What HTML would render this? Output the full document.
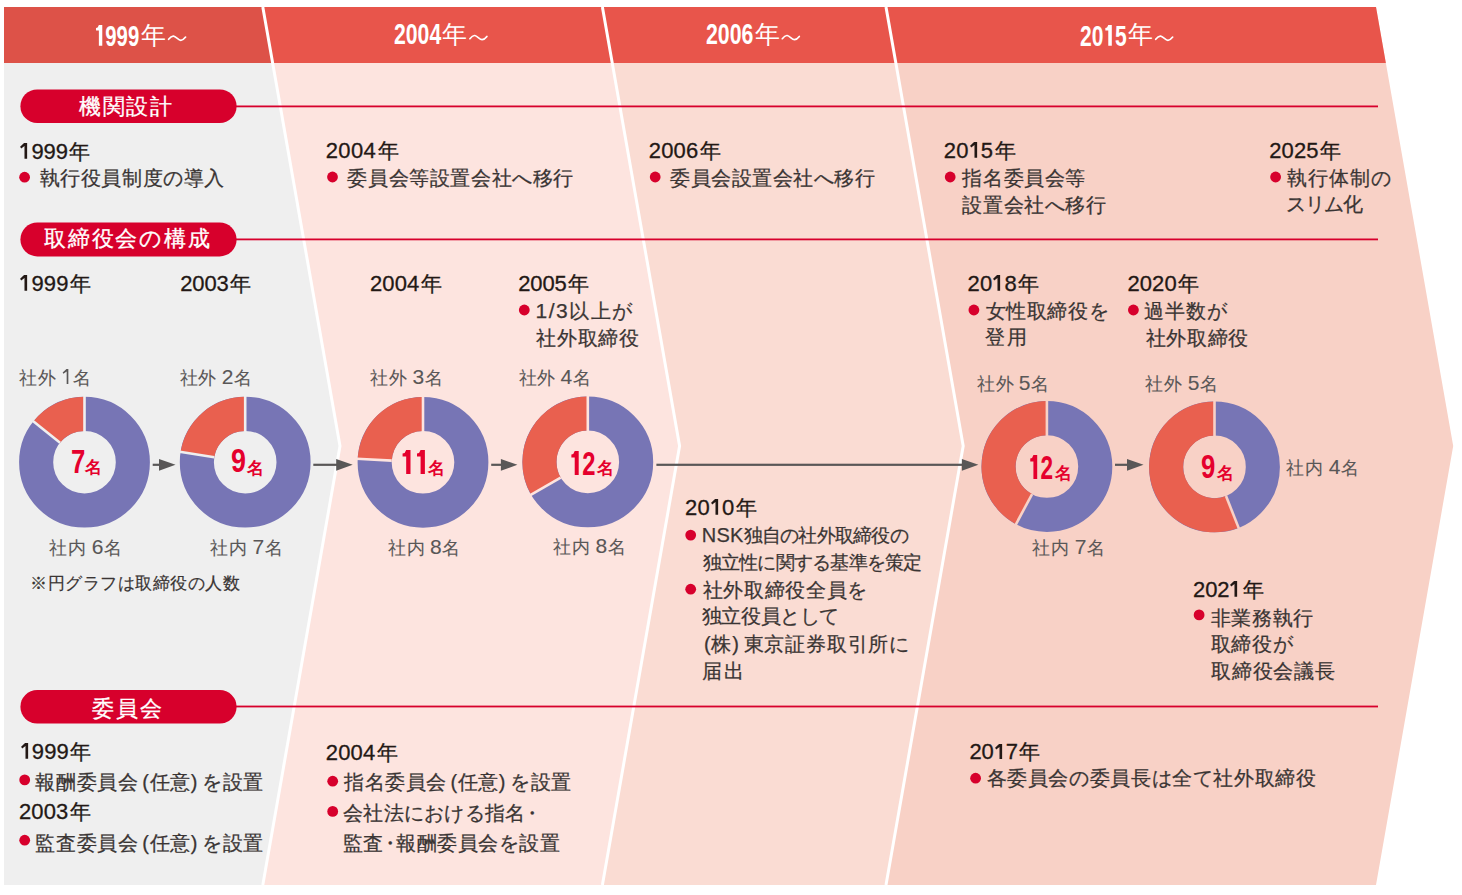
<!DOCTYPE html>
<html lang="ja"><head><meta charset="utf-8">
<style>
html,body{margin:0;padding:0;background:#fff;width:1462px;height:895px;overflow:hidden}
body{position:relative;font-family:"Liberation Sans",sans-serif}
svg{position:absolute;left:0;top:0}
svg.one{position:static;display:inline-block;width:0.556em;height:0.716em;vertical-align:baseline}
div{position:absolute;white-space:nowrap;line-height:1}
.hdig{font-weight:bold;font-size:29px;color:#fff;transform-origin:0 0}
.hnen{font-size:25px;color:#fff}
.pill{font-size:22px;color:#fff;-webkit-text-stroke:0.3px #fff}
.yr{font-size:22px;color:#231815;-webkit-text-stroke:0.3px #231815}
.bd{font-size:20px;color:#3a3534;-webkit-text-stroke:0.25px #3a3534}
.lb{font-size:17.5px;color:#595757;-webkit-text-stroke:0.1px #595757}
.note{font-size:17px;color:#3a3534;-webkit-text-stroke:0.2px #3a3534}
.ndig{font-weight:bold;font-size:34px;color:#e5002d;transform-origin:0 0}
.nnen{font-weight:bold;font-size:17px;color:#e5002d}
</style></head><body>
<svg width="1462" height="895" viewBox="0 0 1462 895">
<polygon points="4.00,7.00 262.80,7.00 340.00,446.00 262.80,885.00 4.00,885.00" fill="#efefef"/>
<polygon points="602.40,7.00 679.60,446.00 602.40,885.00 262.80,885.00 340.00,446.00 262.80,7.00" fill="#fde4df"/>
<polygon points="886.00,7.00 963.20,446.00 886.00,885.00 602.40,885.00 679.60,446.00 602.40,7.00" fill="#fadcd3"/>
<polygon points="1376.00,7.00 1453.20,446.00 1376.00,885.00 886.00,885.00 963.20,446.00 886.00,7.00" fill="#f8d1c6"/>
<clipPath id="hc"><rect x="0" y="7" width="1462" height="56"/></clipPath>
<polygon clip-path="url(#hc)" points="4.00,7.00 262.80,7.00 340.00,446.00 262.80,885.00 4.00,885.00" fill="#dd5248"/>
<polygon clip-path="url(#hc)" points="602.40,7.00 679.60,446.00 602.40,885.00 262.80,885.00 340.00,446.00 262.80,7.00" fill="#e8554b"/>
<polygon clip-path="url(#hc)" points="886.00,7.00 963.20,446.00 886.00,885.00 602.40,885.00 679.60,446.00 602.40,7.00" fill="#e8554b"/>
<polygon clip-path="url(#hc)" points="1376.00,7.00 1453.20,446.00 1376.00,885.00 886.00,885.00 963.20,446.00 886.00,7.00" fill="#e8554b"/>
<polyline points="262.80,7.00 340.00,446.00 262.80,885.00" fill="none" stroke="#fff" stroke-width="3"/>
<polyline points="602.40,7.00 679.60,446.00 602.40,885.00" fill="none" stroke="#fff" stroke-width="3"/>
<polyline points="886.00,7.00 963.20,446.00 886.00,885.00" fill="none" stroke="#fff" stroke-width="3"/>
<rect x="230" y="105.5" width="1148" height="1.8" fill="#d7002c"/>
<rect x="20.4" y="89.4" width="216.2" height="33.6" rx="16.8" fill="#d7002c"/>
<rect x="230" y="238.5" width="1148" height="1.8" fill="#d7002c"/>
<rect x="20.4" y="222.4" width="216.2" height="34.0" rx="17.0" fill="#d7002c"/>
<rect x="230" y="705.5999999999999" width="1148" height="1.8" fill="#d7002c"/>
<rect x="20.4" y="690" width="216.2" height="33.6" rx="16.8" fill="#d7002c"/>
<circle cx="84.5" cy="462.2" r="48.35" fill="none" stroke="#7775b5" stroke-width="34.10000000000001"/>
<path d="M84.50,396.80 A65.4,65.4 0 0 0 33.39,421.40 L60.04,442.67 A31.3,31.3 0 0 1 84.50,430.90Z" fill="#e9604f"/>
<line x1="84.5" y1="395.79999999999995" x2="84.5" y2="431.9" stroke="#efefef" stroke-width="2.6"/>
<line x1="32.61" y1="420.77" x2="60.04" y2="442.67" stroke="#efefef" stroke-width="2.6"/>
<circle cx="245.2" cy="462.2" r="48.35" fill="none" stroke="#7775b5" stroke-width="34.10000000000001"/>
<path d="M245.20,396.80 A65.4,65.4 0 0 0 180.62,451.86 L214.29,457.25 A31.3,31.3 0 0 1 245.20,430.90Z" fill="#e9604f"/>
<line x1="245.2" y1="395.79999999999995" x2="245.2" y2="431.9" stroke="#efefef" stroke-width="2.6"/>
<line x1="179.64" y1="451.70" x2="214.29" y2="457.25" stroke="#efefef" stroke-width="2.6"/>
<circle cx="423" cy="462.3" r="48.35" fill="none" stroke="#7775b5" stroke-width="34.10000000000001"/>
<path d="M423.00,396.90 A65.4,65.4 0 0 0 357.69,458.88 L391.74,460.66 A31.3,31.3 0 0 1 423.00,431.00Z" fill="#e9604f"/>
<line x1="423" y1="395.9" x2="423" y2="432.0" stroke="#fde4df" stroke-width="2.6"/>
<line x1="356.69" y1="458.82" x2="391.74" y2="460.66" stroke="#fde4df" stroke-width="2.6"/>
<circle cx="587.8" cy="461.9" r="48.35" fill="none" stroke="#7775b5" stroke-width="34.10000000000001"/>
<path d="M587.80,396.50 A65.4,65.4 0 0 0 531.16,494.60 L560.69,477.55 A31.3,31.3 0 0 1 587.80,430.60Z" fill="#e9604f"/>
<line x1="587.8" y1="395.5" x2="587.8" y2="431.59999999999997" stroke="#fde4df" stroke-width="2.6"/>
<line x1="530.30" y1="495.10" x2="560.69" y2="477.55" stroke="#fde4df" stroke-width="2.6"/>
<circle cx="1046.9" cy="466.5" r="48.35" fill="none" stroke="#7775b5" stroke-width="34.10000000000001"/>
<path d="M1046.90,401.10 A65.4,65.4 0 0 0 1016.00,524.14 L1032.11,494.08 A31.3,31.3 0 0 1 1046.90,435.20Z" fill="#e9604f"/>
<line x1="1046.9" y1="400.1" x2="1046.9" y2="436.2" stroke="#f8d1c6" stroke-width="2.6"/>
<line x1="1015.52" y1="525.02" x2="1032.11" y2="494.08" stroke="#f8d1c6" stroke-width="2.6"/>
<circle cx="1214.5" cy="466.9" r="48.35" fill="none" stroke="#7775b5" stroke-width="34.10000000000001"/>
<path d="M1214.50,401.50 A65.4,65.4 0 1 0 1238.58,527.71 L1226.02,496.00 A31.3,31.3 0 1 1 1214.50,435.60Z" fill="#e9604f"/>
<line x1="1214.5" y1="400.5" x2="1214.5" y2="436.59999999999997" stroke="#f8d1c6" stroke-width="2.6"/>
<line x1="1238.94" y1="528.64" x2="1226.02" y2="496.00" stroke="#f8d1c6" stroke-width="2.6"/>
<rect x="152.7" y="463.7" width="12.800000000000011" height="2.2" fill="#595757"/>
<polygon points="159.0,458.95 175.5,464.8 159.0,470.65000000000003" fill="#595757"/>
<rect x="313.3" y="463.7" width="29.399999999999977" height="2.2" fill="#595757"/>
<polygon points="336.2,458.95 352.7,464.8 336.2,470.65000000000003" fill="#595757"/>
<rect x="491.2" y="463.7" width="16.19999999999999" height="2.2" fill="#595757"/>
<polygon points="500.9,458.95 517.4,464.8 500.9,470.65000000000003" fill="#595757"/>
<rect x="656.4" y="463.7" width="312.0" height="2.2" fill="#595757"/>
<polygon points="961.9,458.95 978.4,464.8 961.9,470.65000000000003" fill="#595757"/>
<rect x="1115" y="463.7" width="18.5" height="2.2" fill="#595757"/>
<polygon points="1127.0,458.95 1143.5,464.8 1127.0,470.65000000000003" fill="#595757"/>
<circle cx="24.6" cy="177.2" r="5.4" fill="#d7002c"/>
<circle cx="332.5" cy="177" r="5.4" fill="#d7002c"/>
<circle cx="655.2" cy="177" r="5.4" fill="#d7002c"/>
<circle cx="950.2" cy="177" r="5.4" fill="#d7002c"/>
<circle cx="1275.6" cy="177" r="5.4" fill="#d7002c"/>
<circle cx="524.3" cy="310" r="5.4" fill="#d7002c"/>
<circle cx="973.9" cy="310" r="5.4" fill="#d7002c"/>
<circle cx="1133.4" cy="310" r="5.4" fill="#d7002c"/>
<circle cx="690.7" cy="535.1" r="5.4" fill="#d7002c"/>
<circle cx="690.7" cy="589.2" r="5.4" fill="#d7002c"/>
<circle cx="1199.1" cy="614.9" r="5.4" fill="#d7002c"/>
<circle cx="24.7" cy="779.9" r="5.4" fill="#d7002c"/>
<circle cx="24.7" cy="840.2" r="5.4" fill="#d7002c"/>
<circle cx="332.7" cy="781.2" r="5.4" fill="#d7002c"/>
<circle cx="332.7" cy="811.4" r="5.4" fill="#d7002c"/>
<circle cx="975.6" cy="778.2" r="5.4" fill="#d7002c"/>
<path d="M168.60,39.30 C170.50,36.80 172.00,35.90 173.50,36.10 C176.00,36.50 178.30,40.30 180.80,40.30 C182.60,40.30 184.30,38.80 185.60,37.10" fill="none" stroke="#fff" stroke-width="1.7" stroke-linecap="round"/>
<path d="M469.90,38.70 C471.80,36.20 473.30,35.30 474.80,35.50 C477.30,35.90 479.60,39.70 482.10,39.70 C483.90,39.70 485.60,38.20 486.90,36.50" fill="none" stroke="#fff" stroke-width="1.7" stroke-linecap="round"/>
<path d="M782.30,38.70 C784.20,36.20 785.70,35.30 787.20,35.50 C789.70,35.90 792.00,39.70 794.50,39.70 C796.30,39.70 798.00,38.20 799.30,36.50" fill="none" stroke="#fff" stroke-width="1.7" stroke-linecap="round"/>
<path d="M1155.70,39.30 C1157.60,36.80 1159.10,35.90 1160.60,36.10 C1163.10,36.50 1165.40,40.30 1167.90,40.30 C1169.70,40.30 1171.40,38.80 1172.70,37.10" fill="none" stroke="#fff" stroke-width="1.7" stroke-linecap="round"/>
</svg>
<div id="t0" class="hdig" style="left:94.00px;top:22.00px;transform:scaleX(0.7004)"><svg class="one" viewBox="0 0 0.556 0.716" preserveAspectRatio="none"><polygon points="0.24,0 0.408,0 0.408,0.716 0.24,0.716 0.24,0.19 0.10,0.19 0.10,0.10 0.18,0.085 0.24,0" fill="currentColor"/></svg>999</div>
<div id="t1" class="hnen" style="left:140.60px;top:23.20px">年</div>
<div id="t2" class="hdig" style="left:394.00px;top:19.80px;transform:scaleX(0.7318)">2004</div>
<div id="t3" class="hnen" style="left:442.20px;top:21.80px">年</div>
<div id="t4" class="hdig" style="left:706.20px;top:19.80px;transform:scaleX(0.7338)">2006</div>
<div id="t5" class="hnen" style="left:754.60px;top:21.80px">年</div>
<div id="t6" class="hdig" style="left:1079.60px;top:21.80px;transform:scaleX(0.7258)">20<svg class="one" viewBox="0 0 0.556 0.716" preserveAspectRatio="none"><polygon points="0.24,0 0.408,0 0.408,0.716 0.24,0.716 0.24,0.19 0.10,0.19 0.10,0.10 0.18,0.085 0.24,0" fill="currentColor"/></svg>5</div>
<div id="t7" class="hnen" style="left:1128.00px;top:22.40px">年</div>
<div id="t8" class="pill" style="left:79.00px;top:95.60px;letter-spacing:1.667px">機関設計</div>
<div id="t9" class="pill" style="left:44.00px;top:228.00px;letter-spacing:1.833px">取締役会の構成</div>
<div id="t10" class="pill" style="left:92.00px;top:698.00px;letter-spacing:2.000px">委員会</div>
<div id="t11" class="yr" style="left:19.20px;top:140.60px;letter-spacing:-0.100px"><svg class="one" viewBox="0 0 0.556 0.716" preserveAspectRatio="none"><polygon points="0.25,0 0.37,0 0.37,0.716 0.25,0.716 0.25,0.14 0.10,0.25 0.05,0.17 0.23,0" fill="currentColor"/></svg>999<span style="font-size:20.5px;margin-left:1.5px">年</span></div>
<div id="t12" class="yr" style="left:325.80px;top:140.20px;letter-spacing:0.325px">2004<span style="font-size:20.5px;margin-left:1.5px">年</span></div>
<div id="t13" class="yr" style="left:648.80px;top:140.20px;letter-spacing:0.125px">2006<span style="font-size:20.5px;margin-left:1.5px">年</span></div>
<div id="t14" class="yr" style="left:943.80px;top:140.20px;letter-spacing:0.125px">20<svg class="one" viewBox="0 0 0.556 0.716" preserveAspectRatio="none"><polygon points="0.25,0 0.37,0 0.37,0.716 0.25,0.716 0.25,0.14 0.10,0.25 0.05,0.17 0.23,0" fill="currentColor"/></svg>5<span style="font-size:20.5px;margin-left:1.5px">年</span></div>
<div id="t15" class="yr" style="left:1269.20px;top:140.20px;letter-spacing:0.125px">2025<span style="font-size:20.5px;margin-left:1.5px">年</span></div>
<div id="t16" class="yr" style="left:19.20px;top:273.20px;letter-spacing:0.125px"><svg class="one" viewBox="0 0 0.556 0.716" preserveAspectRatio="none"><polygon points="0.25,0 0.37,0 0.37,0.716 0.25,0.716 0.25,0.14 0.10,0.25 0.05,0.17 0.23,0" fill="currentColor"/></svg>999<span style="font-size:20.5px;margin-left:1.5px">年</span></div>
<div id="t17" class="yr" style="left:180.20px;top:273.20px;letter-spacing:-0.125px">2003<span style="font-size:20.5px;margin-left:1.5px">年</span></div>
<div id="t18" class="yr" style="left:370.00px;top:273.20px;letter-spacing:0.125px">2004<span style="font-size:20.5px;margin-left:1.5px">年</span></div>
<div id="t19" class="yr" style="left:518.20px;top:273.20px;letter-spacing:-0.125px">2005<span style="font-size:20.5px;margin-left:1.5px">年</span></div>
<div id="t20" class="yr" style="left:967.60px;top:273.20px;letter-spacing:0.125px">20<svg class="one" viewBox="0 0 0.556 0.716" preserveAspectRatio="none"><polygon points="0.25,0 0.37,0 0.37,0.716 0.25,0.716 0.25,0.14 0.10,0.25 0.05,0.17 0.23,0" fill="currentColor"/></svg>8<span style="font-size:20.5px;margin-left:1.5px">年</span></div>
<div id="t21" class="yr" style="left:1127.40px;top:273.20px;letter-spacing:0.125px">2020<span style="font-size:20.5px;margin-left:1.5px">年</span></div>
<div id="t22" class="yr" style="left:685.00px;top:497.00px;letter-spacing:0.200px">20<svg class="one" viewBox="0 0 0.556 0.716" preserveAspectRatio="none"><polygon points="0.25,0 0.37,0 0.37,0.716 0.25,0.716 0.25,0.14 0.10,0.25 0.05,0.17 0.23,0" fill="currentColor"/></svg>0<span style="font-size:20.5px;margin-left:1.5px">年</span></div>
<div id="t23" class="yr" style="left:1193.00px;top:579.20px;letter-spacing:-0.075px">202<svg class="one" viewBox="0 0 0.556 0.716" preserveAspectRatio="none"><polygon points="0.25,0 0.37,0 0.37,0.716 0.25,0.716 0.25,0.14 0.10,0.25 0.05,0.17 0.23,0" fill="currentColor"/></svg><span style="font-size:20.5px;margin-left:1.5px">年</span></div>
<div id="t24" class="yr" style="left:19.60px;top:740.60px;letter-spacing:0.125px"><svg class="one" viewBox="0 0 0.556 0.716" preserveAspectRatio="none"><polygon points="0.25,0 0.37,0 0.37,0.716 0.25,0.716 0.25,0.14 0.10,0.25 0.05,0.17 0.23,0" fill="currentColor"/></svg>999<span style="font-size:20.5px;margin-left:1.5px">年</span></div>
<div id="t25" class="yr" style="left:19.00px;top:801.00px;letter-spacing:0.125px">2003<span style="font-size:20.5px;margin-left:1.5px">年</span></div>
<div id="t26" class="yr" style="left:325.80px;top:742.00px;letter-spacing:0.125px">2004<span style="font-size:20.5px;margin-left:1.5px">年</span></div>
<div id="t27" class="yr" style="left:969.60px;top:741.40px;letter-spacing:-0.225px">20<svg class="one" viewBox="0 0 0.556 0.716" preserveAspectRatio="none"><polygon points="0.25,0 0.37,0 0.37,0.716 0.25,0.716 0.25,0.14 0.10,0.25 0.05,0.17 0.23,0" fill="currentColor"/></svg>7<span style="font-size:20.5px;margin-left:1.5px">年</span></div>
<div id="t28" class="bd" style="left:39.80px;top:168.00px;letter-spacing:0.550px">執行役員制度の導入</div>
<div id="t29" class="bd" style="left:347.40px;top:167.80px;letter-spacing:0.590px">委員会等設置会社へ移行</div>
<div id="t30" class="bd" style="left:670.20px;top:167.80px;letter-spacing:0.522px">委員会設置会社へ移行</div>
<div id="t31" class="bd" style="left:962.40px;top:167.80px;letter-spacing:0.580px">指名委員会等</div>
<div id="t32" class="bd" style="left:962.40px;top:194.80px;letter-spacing:0.567px">設置会社へ移行</div>
<div id="t33" class="bd" style="left:1287.40px;top:167.80px;letter-spacing:0.850px">執行体制の</div>
<div id="t34" class="bd" style="left:1285.60px;top:193.80px;letter-spacing:-0.967px">スリム化</div>
<div id="t35" class="bd" style="left:535.40px;top:300.00px;letter-spacing:1.580px"><span style="font-size:21px">1/3</span>以上が</div>
<div id="t36" class="bd" style="left:536.20px;top:328.20px;letter-spacing:0.675px">社外取締役</div>
<div id="t37" class="bd" style="left:985.80px;top:301.00px;letter-spacing:0.560px">女性取締役を</div>
<div id="t38" class="bd" style="left:984.60px;top:327.40px;letter-spacing:2.200px">登用</div>
<div id="t39" class="bd" style="left:1143.80px;top:301.00px;letter-spacing:1.033px">過半数が</div>
<div id="t40" class="bd" style="left:1145.80px;top:328.20px;letter-spacing:0.650px">社外取締役</div>
<div id="t41" class="bd" style="left:701.80px;top:524.60px;font-size:18.8px;letter-spacing:-0.727px"><span style="font-size:20px;letter-spacing:0.2px">NSK</span>独自の社外取締役の</div>
<div id="t42" class="bd" style="left:702.60px;top:552.80px;font-size:19.0px;letter-spacing:-0.745px">独立性に関する基準を策定</div>
<div id="t43" class="bd" style="left:702.60px;top:580.00px;letter-spacing:0.700px">社外取締役全員を</div>
<div id="t44" class="bd" style="left:701.60px;top:606.40px;letter-spacing:-0.350px">独立役員として</div>
<div id="t45" class="bd" style="left:700.00px;top:633.80px;letter-spacing:0.770px"><span style="margin-left:4px">(</span>株<span style="margin-right:4px">)</span>東京証券取引所に</div>
<div id="t46" class="bd" style="left:701.60px;top:661.00px;letter-spacing:2.300px">届出</div>
<div id="t47" class="bd" style="left:1210.80px;top:607.60px;letter-spacing:0.600px">非業務執行</div>
<div id="t48" class="bd" style="left:1210.80px;top:634.40px;letter-spacing:0.700px">取締役が</div>
<div id="t49" class="bd" style="left:1210.80px;top:661.20px;letter-spacing:0.880px">取締役会議長</div>
<div id="t50" class="bd" style="left:35.40px;top:772.00px;letter-spacing:0.582px">報酬委員会<span style="margin-left:4px">(</span>任意<span style="margin-right:4px">)</span>を設置</div>
<div id="t51" class="bd" style="left:35.40px;top:833.20px;letter-spacing:0.582px">監査委員会<span style="margin-left:4px">(</span>任意<span style="margin-right:4px">)</span>を設置</div>
<div id="t52" class="bd" style="left:344.00px;top:772.00px;letter-spacing:0.518px">指名委員会<span style="margin-left:4px">(</span>任意<span style="margin-right:4px">)</span>を設置</div>
<div id="t53" class="bd" style="left:343.00px;top:802.60px;letter-spacing:0.300px">会社法における指名<span style="margin:0 -4px">・</span></div>
<div id="t54" class="bd" style="left:343.00px;top:833.20px;letter-spacing:0.470px">監査<span style="margin:0 -4px">・</span>報酬委員会を設置</div>
<div id="t55" class="bd" style="left:986.60px;top:768.40px;letter-spacing:0.620px">各委員会の委員長は全て社外取締役</div>
<div id="t56" class="lb" style="left:19.00px;top:366.40px;letter-spacing:0.500px">社外 <span style="font-size:21px"><svg class="one" viewBox="0 0 0.556 0.716" preserveAspectRatio="none"><polygon points="0.27,0 0.35,0 0.35,0.716 0.27,0.716 0.27,0.12 0.11,0.23 0.08,0.17 0.26,0" fill="currentColor"/></svg></span>名</div>
<div id="t57" class="lb" style="left:180.00px;top:366.40px;letter-spacing:0.250px">社外 <span style="font-size:21px">2</span>名</div>
<div id="t58" class="lb" style="left:370.00px;top:366.40px;letter-spacing:0.500px">社外 <span style="font-size:21px">3</span>名</div>
<div id="t59" class="lb" style="left:518.60px;top:366.40px;letter-spacing:0.350px">社外 <span style="font-size:21px">4</span>名</div>
<div id="t60" class="lb" style="left:977.40px;top:371.60px;letter-spacing:0.150px">社外 <span style="font-size:21px">5</span>名</div>
<div id="t61" class="lb" style="left:1145.40px;top:372.00px;letter-spacing:0.525px">社外 <span style="font-size:21px">5</span>名</div>
<div id="t62" class="lb" style="left:49.40px;top:535.60px;letter-spacing:0.500px">社内 <span style="font-size:21px">6</span>名</div>
<div id="t63" class="lb" style="left:210.40px;top:535.60px;letter-spacing:0.400px">社内 <span style="font-size:21px">7</span>名</div>
<div id="t64" class="lb" style="left:388.20px;top:536.20px;letter-spacing:0.350px">社内 <span style="font-size:21px">8</span>名</div>
<div id="t65" class="lb" style="left:553.20px;top:535.20px;letter-spacing:0.450px">社内 <span style="font-size:21px">8</span>名</div>
<div id="t66" class="lb" style="left:1032.40px;top:535.80px;letter-spacing:0.525px">社内 <span style="font-size:21px">7</span>名</div>
<div id="t67" class="lb" style="left:1286.20px;top:455.80px;letter-spacing:0.525px">社内 <span style="font-size:21px">4</span>名</div>
<div id="t68" class="note" style="left:30.20px;top:574.60px;letter-spacing:0.500px">※円グラフは取締役の人数</div>
<div id="t69" class="ndig" style="left:70.80px;top:443.80px;transform:scaleX(0.7565)">7</div>
<div id="t70" class="nnen" style="left:85.40px;top:459.40px">名</div>
<div id="t71" class="ndig" style="left:231.00px;top:443.40px;transform:scaleX(0.7904)">9</div>
<div id="t72" class="nnen" style="left:246.80px;top:460.40px">名</div>
<div id="t73" class="ndig" style="left:399.80px;top:445.40px;transform:scaleX(0.7577)"><svg class="one" viewBox="0 0 0.556 0.716" preserveAspectRatio="none"><polygon points="0.24,0 0.408,0 0.408,0.716 0.24,0.716 0.24,0.19 0.10,0.19 0.10,0.10 0.18,0.085 0.24,0" fill="currentColor"/></svg><svg class="one" viewBox="0 0 0.556 0.716" preserveAspectRatio="none"><polygon points="0.24,0 0.408,0 0.408,0.716 0.24,0.716 0.24,0.19 0.10,0.19 0.10,0.10 0.18,0.085 0.24,0" fill="currentColor"/></svg></div>
<div id="t74" class="nnen" style="left:428.00px;top:460.40px">名</div>
<div id="t75" class="ndig" style="left:569.00px;top:446.00px;transform:scaleX(0.7000)"><svg class="one" viewBox="0 0 0.556 0.716" preserveAspectRatio="none"><polygon points="0.24,0 0.408,0 0.408,0.716 0.24,0.716 0.24,0.19 0.10,0.19 0.10,0.10 0.18,0.085 0.24,0" fill="currentColor"/></svg>2</div>
<div id="t76" class="nnen" style="left:597.00px;top:460.00px">名</div>
<div id="t77" class="ndig" style="left:1028.00px;top:450.00px;transform:scaleX(0.6636)"><svg class="one" viewBox="0 0 0.556 0.716" preserveAspectRatio="none"><polygon points="0.24,0 0.408,0 0.408,0.716 0.24,0.716 0.24,0.19 0.10,0.19 0.10,0.10 0.18,0.085 0.24,0" fill="currentColor"/></svg>2</div>
<div id="t78" class="nnen" style="left:1055.00px;top:464.60px">名</div>
<div id="t79" class="ndig" style="left:1201.20px;top:449.00px;transform:scaleX(0.7565)">9</div>
<div id="t80" class="nnen" style="left:1216.80px;top:464.60px">名</div>
</body></html>
